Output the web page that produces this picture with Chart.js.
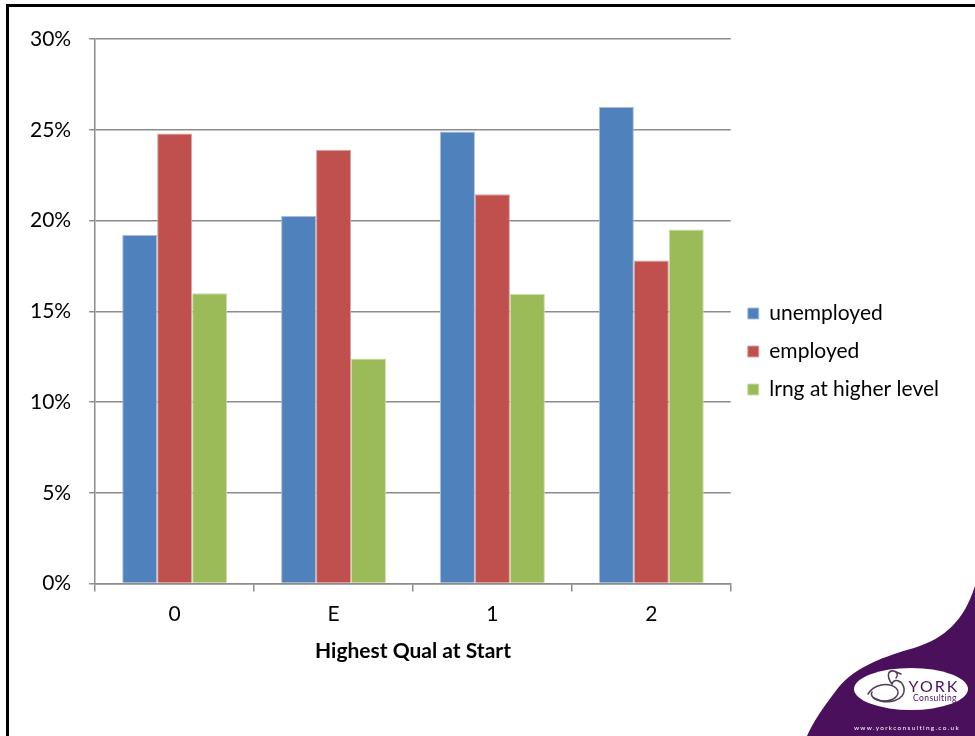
<!DOCTYPE html>
<html>
<head>
<meta charset="utf-8">
<script src="https://cdn.jsdelivr.net/npm/chart.js@4/dist/chart.umd.min.js"></script>
<style>
  html, body { margin: 0; padding: 0; background: #fff; overflow: hidden; }
  #wrap { position: relative; width: 975px; height: 736px; }
  #frame { position: absolute; left: 6px; top: 4px; width: 1000px; height: 800px;
           border-left: 3px solid #000; border-top: 3px solid #000; }
  #chart { position: absolute; left: 0; top: 0; }
  #logo { position: absolute; left: 0; top: 0; }
</style>
</head>
<body>
<div id="wrap">
  <div id="frame"></div>
  <canvas id="chart" width="975" height="736"></canvas>
  <svg id="logo" width="975" height="736" viewBox="0 0 975 736">
    <path d="M975,586 C964,620 946,638 914,648 C886,656 856,666 838,688 C824,706 813,722 807,736 L975,736 Z" fill="#4a105c"/>
    <ellipse cx="911" cy="689" rx="57" ry="21" fill="#fff"/>
    <g fill="none" stroke="#4d3d58" stroke-width="1.5" stroke-linecap="round">
      <path d="M868,694 C874,684 888,682 896,688 C902,694 894,702 882,701 C874,700 870,696 872,692"/>
      <path d="M874,698 C888,706 906,700 904,688 C902,680 894,678 892,684"/>
      <path d="M892,684 C886,676 888,670 894,671 C898,672 898,676 896,678"/>
      <path d="M896,672 L901,674"/>
    </g>
    <text x="934" y="692" text-anchor="middle" font-family="Lato, sans-serif" font-size="16" letter-spacing="2" fill="#4a105c">YORK</text>
    <text x="935" y="701" text-anchor="middle" font-family="Lato, sans-serif" font-size="8.5" letter-spacing="0.4" fill="#4a105c">Consulting</text>
    <text x="907" y="730" text-anchor="middle" font-family="Lato, sans-serif" font-size="6.5" letter-spacing="1.3" fill="#fff">www.yorkconsulting.co.uk</text>
  </svg>
</div>
<script>
// Highest qualification at start vs. outcome share
const categories = ['0', 'E', '1', '2'];
const unemployed = [19.2, 20.25, 24.9, 26.25];
const employed = [24.8, 23.9, 21.45, 17.8];
const lrngHigher = [16.0, 12.4, 15.95, 19.5];
const yTicks = [0, 5, 10, 15, 20, 25, 30];

const FONT = 'Lato, "Open Sans", sans-serif';
const GRID = '#8c8c8c';

Chart.defaults.font.family = FONT;
Chart.defaults.color = '#000';

const ctx = document.getElementById('chart').getContext('2d');
new Chart(ctx, {
    type: 'bar',
    data: {
        labels: categories,
        datasets: [
            { label: 'unemployed', data: unemployed, backgroundColor: '#4f81bd', borderColor: '#a7bfdd', borderWidth: 1 },
            { label: 'employed', data: employed, backgroundColor: '#c0504d', borderColor: '#dea2a0', borderWidth: 1 },
            { label: 'lrng at higher level', data: lrngHigher, backgroundColor: '#9bbb59', borderColor: '#cddcab', borderWidth: 1 }
        ]
    },
    options: {
        responsive: false,
        animation: false,
        layout: { padding: { left: 12, top: 39, right: 26, bottom: 72 } },
        datasets: { bar: { categoryPercentage: 0.66, barPercentage: 1 } },
        scales: {
            x: {
                grid: { offset: true, drawOnChartArea: false, drawTicks: true, tickLength: 8, color: GRID, lineWidth: 1.5 },
                border: { color: GRID, width: 1.5 },
                ticks: { font: { size: 21 }, padding: 10, color: '#000' },
                title: { display: true, text: 'Highest Qual at Start', font: { size: 21, weight: 'bold' }, color: '#000', padding: { top: 2, bottom: 0 } }
            },
            y: {
                min: 0,
                max: 30,
                afterBuildTicks: (axis) => { axis.ticks = yTicks.map(v => ({ value: v })); },
                grid: { color: GRID, lineWidth: 1.5, drawTicks: true, tickLength: 6 },
                border: { color: GRID, width: 1.5 },
                ticks: { font: { size: 21 }, padding: 18, color: '#000', callback: (v) => v + '%' }
            }
        },
        plugins: {
            legend: {
                position: 'right',
                labels: { boxWidth: 11, boxHeight: 11, padding: 17, font: { size: 21 }, color: '#000' }
            },
            tooltip: { enabled: false }
        }
    }
});
</script>
</body>
</html>
